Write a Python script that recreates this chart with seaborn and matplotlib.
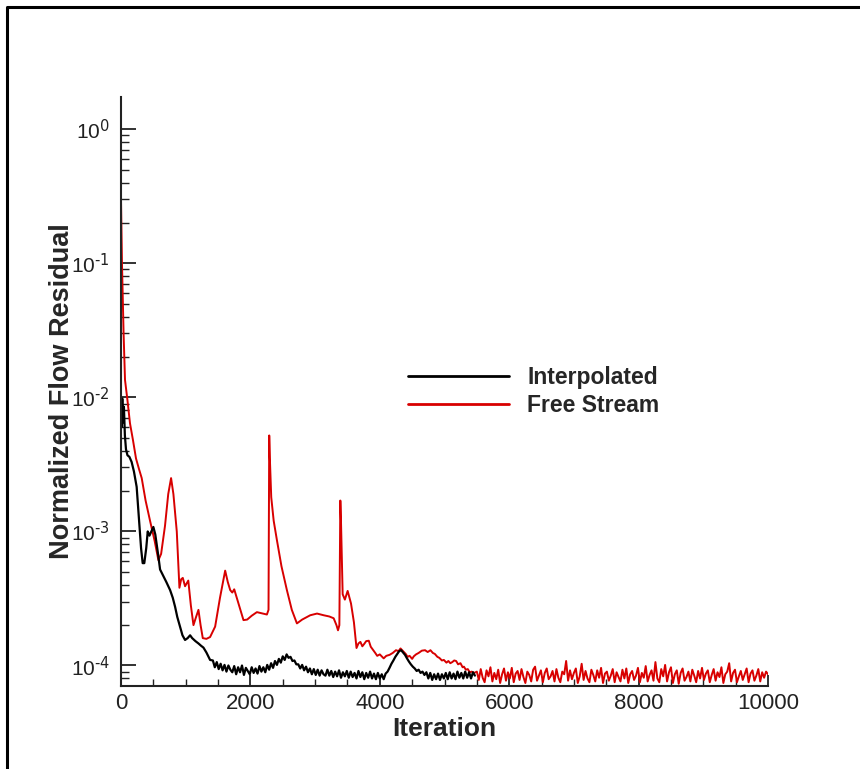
import numpy as np
import pandas as pd
import matplotlib
matplotlib.use("Agg")
import matplotlib.pyplot as plt
import matplotlib.ticker as mticker
from matplotlib.lines import Line2D
import seaborn as sns

# ---------------- data ----------------
free_iter_main = [0, 15, 40, 62, 100, 139, 185, 232, 280, 320, 380, 449, 520, 578, 620, 680,
                  730, 774, 810, 862, 903, 930, 955, 990, 1040, 1080, 1120, 1160, 1197, 1230,
                  1264, 1320, 1377, 1455, 1530, 1610, 1650, 1688, 1720, 1750, 1816, 1893, 1950,
                  2020, 2100, 2180, 2255, 2280, 2291, 2300, 2322, 2360, 2410, 2480, 2564, 2640,
                  2719, 2800, 2925, 3030, 3132, 3220, 3287, 3330, 3354, 3375, 3390, 3400, 3426,
                  3460, 3503, 3555, 3600, 3640, 3670, 3700, 3730, 3760, 3790, 3830, 3860, 3900,
                  3930, 3960, 4000, 4060, 4100, 4150, 4200, 4250, 4290, 4320, 4360, 4400, 4430,
                  4460, 4500, 4525, 4560, 4600, 4650, 4700, 4740, 4783, 4820, 4850, 4890, 4920,
                  4960, 4990, 5030, 5060, 5090, 5120, 5150, 5180, 5210, 5247, 5280, 5300, 5330,
                  5360, 5390, 5420, 5460]
free_val_main = [0.3, 0.1, 0.03, 0.0135, 0.0095, 0.0064, 0.0048, 0.0035, 0.0029, 0.0025, 0.0017,
                 0.0012, 0.00085, 0.00061, 0.00068, 0.0011, 0.0019, 0.0025, 0.0019, 0.001, 0.00038,
                 0.00044, 0.00045, 0.00039, 0.00043, 0.00028, 0.0002, 0.00023, 0.00026, 0.0002,
                 0.00016, 0.000158, 0.000163, 0.000195, 0.00032, 0.00051, 0.00042, 0.000365,
                 0.00035, 0.00037, 0.00029, 0.000218, 0.00022, 0.000235, 0.00025, 0.000245,
                 0.00024, 0.00026, 0.0052, 0.0036, 0.0018, 0.0012, 0.00086, 0.00055, 0.000365,
                 0.00026, 0.000206, 0.00022, 0.000237, 0.000244, 0.000237, 0.000232, 0.000225,
                 0.0002, 0.000183, 0.0002, 0.0017, 0.0012, 0.00034, 0.00031, 0.00036, 0.00029,
                 0.00021, 0.000135, 0.000146, 0.000150, 0.000139, 0.000145, 0.000152, 0.000153,
                 0.000138, 0.000130, 0.000124, 0.000118, 0.000121, 0.000113, 0.000118, 0.000120,
                 0.000124, 0.000130, 0.000128, 0.000134, 0.000128, 0.000122, 0.000116, 0.000118,
                 0.000112, 0.000117, 0.000121, 0.000124, 0.000129, 0.000130, 0.000126, 0.000130,
                 0.000124, 0.000122, 0.000116, 0.000114, 0.000109, 0.000110, 0.000105, 0.000108,
                 0.000104, 0.000106, 0.000109, 0.000108, 0.000102, 0.000104, 0.000097, 0.000098,
                 0.000093, 0.000094, 0.000089, 0.000090, 0.000088]

# noisy tail of the free-stream run, sampled every 30 iterations from 5500 to 10000 (x 1e-5)
free_iter_tail = list(range(5500, 10001, 30))
free_val_tail_e5 = [9.0, 7.8, 9.4, 8.1, 7.5, 9.2, 8.3, 9.7, 7.6, 8.8,
                    7.9, 9.3, 7.4, 8.6, 9.5, 7.7, 8.9, 8.0, 9.6, 7.5,
                    8.7, 9.1, 7.8, 9.4, 8.2, 7.4, 9.0, 8.5, 7.6, 9.3,
                    9.8, 7.7, 8.4, 9.2, 7.5, 8.8, 9.5, 7.9, 8.3, 9.1,
                    7.6, 9.4, 8.1, 7.5, 9.0, 8.6, 10.8, 7.7, 9.2, 7.9,
                    8.8, 9.5, 7.4, 8.3, 10.3, 7.8, 9.1, 8.0, 7.5, 9.3,
                    8.5, 7.6, 9.2, 8.1, 9.6, 7.4, 8.7, 9.0, 7.7, 8.4,
                    9.4, 7.5, 8.9, 8.2, 7.6, 9.3, 8.0, 9.5, 7.4, 8.6,
                    9.1, 7.8, 8.4, 9.6, 7.5, 8.8, 8.1, 9.9, 7.6, 8.5,
                    9.2, 7.7, 10.6, 8.0, 7.5, 9.4, 8.3, 10.1, 7.6, 8.9,
                    9.7, 7.4, 8.6, 9.2, 7.3, 8.8, 9.5, 7.7, 8.2, 9.0,
                    7.6, 9.3, 8.4, 7.5, 9.1, 8.0, 9.6, 7.8, 8.7, 9.2,
                    7.5, 8.5, 9.4, 7.7, 8.9, 8.2, 9.7, 7.4, 8.6, 9.0,
                    10.4, 7.6, 8.8, 9.3, 7.5, 8.3, 9.1, 7.8, 8.6, 9.5,
                    7.5, 8.7, 9.2, 7.7, 8.4, 9.4, 7.6, 8.9, 8.1, 9.0,
                    8.6]

interp_iter_main = [0, 10, 20, 30, 45, 60, 77, 100, 130, 164, 200, 242, 280, 310, 335, 360, 390,
                    413, 440, 470, 500, 530, 578, 604, 650, 700, 759, 800, 836, 870, 913, 950,
                    990, 1030, 1068, 1100, 1150, 1197, 1240, 1274, 1320, 1377]
interp_val_main = [0.0095, 0.006, 0.0098, 0.0065, 0.0085, 0.0052, 0.0041, 0.0037, 0.0036, 0.0033,
                   0.0028, 0.00215, 0.0012, 0.00075, 0.00058, 0.00058, 0.00075, 0.001, 0.00093,
                   0.001, 0.00108, 0.00095, 0.00065, 0.00052, 0.00047, 0.00042, 0.000365, 0.00032,
                   0.000274, 0.00023, 0.000194, 0.000168, 0.000155, 0.00016, 0.000168, 0.00016,
                   0.000152, 0.000146, 0.00014, 0.000136, 0.000125, 0.00011]

# noisy part of the interpolated run, sampled every 30 iterations from 1420 to 5470 (x 1e-5)
interp_iter_tail = list(range(1420, 5471, 30))
interp_val_tail_e5 = [10.9, 9.7, 10.6, 9.4, 10.3, 9.2, 10.1, 9.0, 10.0, 9.3,
                      8.9, 9.9, 8.6, 9.7, 8.9, 10.0, 8.5, 9.6, 9.1, 8.6,
                      9.7, 8.8, 9.5, 8.7, 9.9, 9.0, 9.7, 8.9, 10.1, 9.3,
                      10.4, 9.6, 10.8, 10.1, 11.2, 10.5, 11.7, 11.0, 12.1, 11.4,
                      11.6, 10.8, 10.9, 10.2, 10.2, 9.5, 10.1, 9.2, 9.8, 8.9,
                      9.5, 8.6, 9.4, 8.5, 9.3, 8.4, 9.2, 8.6, 8.4, 9.3,
                      8.4, 9.1, 8.2, 9.0, 8.3, 9.2, 8.1, 8.9, 8.3, 9.1,
                      8.1, 9.0, 8.2, 8.8, 8.0, 9.1, 8.2, 8.9, 7.9, 8.8,
                      8.1, 9.0, 8.0, 8.7, 7.9, 8.8, 8.0, 8.6, 7.9, 8.7,
                      9.0, 9.6, 10.3, 10.9, 11.6, 12.2, 12.8, 13.0, 12.5, 12.0,
                      11.3, 10.7, 10.2, 9.8, 9.5, 9.1, 9.3, 8.8, 9.0, 8.5,
                      8.9, 8.0, 8.8, 7.8, 8.6, 7.9, 8.7, 7.8, 8.6, 8.0,
                      8.8, 7.9, 8.9, 8.0, 8.7, 7.9, 9.0, 8.1, 8.8, 8.0,
                      9.0, 8.1, 8.9, 8.0, 8.9, 8.4]

series_names = ["Interpolated", "Free Stream"]
x_ticks = [0, 2000, 4000, 6000, 8000, 10000]
y_ticks = [1e-4, 1e-3, 1e-2, 1e-1, 1e0]
y_exponents = ["-4", "-3", "-2", "-1", "0"]
x_label = "Iteration"
y_label = "Normalized Flow Residual"

# ---------------- build tables ----------------
free_df = pd.DataFrame({
    "Iteration": free_iter_main + free_iter_tail,
    "Residual": free_val_main + [v * 1e-5 for v in free_val_tail_e5],
})
interp_df = pd.DataFrame({
    "Iteration": interp_iter_main + interp_iter_tail,
    "Residual": interp_val_main + [v * 1e-5 for v in interp_val_tail_e5],
})

# ---------------- style ----------------
sns.set_style("white")
plt.rcParams["font.family"] = ["Liberation Sans", "DejaVu Sans"]
plt.rcParams["mathtext.default"] = "regular"

fig = plt.figure(figsize=(8.6, 7.69), dpi=100)
ax = fig.add_axes([121 / 860, 1 - 686 / 769, 647 / 860, (686 - 96.7) / 769])

red = "#d80000"
sns.lineplot(data=free_df, x="Iteration", y="Residual", ax=ax, color=red, lw=1.4,
             estimator=None, sort=False, label=series_names[1])
sns.lineplot(data=interp_df, x="Iteration", y="Residual", ax=ax, color="black", lw=1.6,
             estimator=None, sort=False, label=series_names[0])

ax.set_yscale("log")
ax.set_xlim(0, 10000)
ax.set_ylim(7.03e-5, 1.75)

ax.set_xticks(x_ticks)
ax.set_xticklabels([str(t) for t in x_ticks])
ax.xaxis.set_minor_locator(mticker.MultipleLocator(500))
ax.set_yticks(y_ticks)
ax.set_yticklabels([r"$10^{\text{" + e + "}}$" for e in y_exponents])
ax.yaxis.set_minor_locator(mticker.LogLocator(base=10, subs=np.arange(2, 10), numticks=10))
ax.yaxis.set_minor_formatter(mticker.NullFormatter())

for s in ["top", "right"]:
    ax.spines[s].set_visible(False)
for s in ["left", "bottom"]:
    ax.spines[s].set_color("#222222")
    ax.spines[s].set_linewidth(1.5)

ax.tick_params(axis="y", which="major", direction="in", length=11, width=1.3,
               color="#222222", labelsize=15, pad=8, left=True)
ax.tick_params(axis="y", which="minor", direction="in", length=6, width=1.0,
               color="#222222", left=True)
ax.tick_params(axis="x", which="major", direction="in", length=8, width=1.3,
               color="#222222", labelsize=16, pad=5, bottom=True)
ax.tick_params(axis="x", which="minor", direction="in", length=5, width=1.0,
               color="#222222", bottom=True)
ax.tick_params(labelcolor="#222222")

ax.set_xlabel(x_label, fontsize=19, fontweight="bold", labelpad=2)
ax.set_ylabel(y_label, fontsize=19.5, fontweight="bold", labelpad=-3)

handles, labels = ax.get_legend_handles_labels()
order = [labels.index(n) for n in series_names]
leg = ax.legend([handles[i] for i in order], [labels[i] for i in order],
                loc="center left", bbox_to_anchor=(0.4436, 0.4997), frameon=False,
                handlelength=4.4, handletextpad=0.8, labelspacing=0.25, borderpad=0,
                borderaxespad=0, prop={"weight": "bold", "size": 16.5})
for line in leg.get_lines():
    line.set_linewidth(2.0)

# outer frame (top and left edges visible in the reference)
fig.add_artist(Line2D([7 / 860, 7 / 860, 1.0], [0.0, 1 - 7 / 769, 1 - 7 / 769],
                      transform=fig.transFigure, color="black", lw=2.2))

fig.savefig("out.png", dpi=100)
